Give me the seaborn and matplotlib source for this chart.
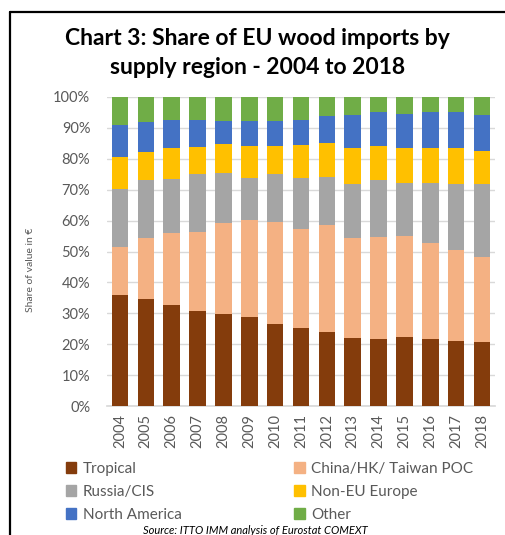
#! /usr/bin/env python3

import matplotlib
matplotlib.use('Agg')
import matplotlib.pyplot as plt
import matplotlib.patches as mpatches
import numpy as np
import pandas as pd
import seaborn as sns
from matplotlib.ticker import PercentFormatter

years = [str(y) for y in range(2004, 2019)]
regions = ['Tropical', 'China/HK/ Taiwan POC', 'Russia/CIS',
           'Non-EU Europe', 'North America', 'Other']

# share of value (%) per region
tropical = [35.8, 34.5, 32.8, 30.8, 29.9, 28.7, 26.5, 25.2, 24.1, 22.0, 21.6, 22.4, 21.6, 21.1, 20.7]
china = [15.7, 19.8, 23.2, 25.6, 29.4, 31.4, 33.2, 32.0, 34.4, 32.3, 33.1, 32.7, 31.1, 29.5, 27.4]
russia = [18.6, 18.7, 17.5, 18.7, 16.2, 13.8, 15.4, 16.6, 15.7, 17.5, 18.3, 17.1, 19.5, 21.1, 23.6]
non_eu = [10.4, 9.1, 9.9, 8.8, 9.2, 10.3, 9.1, 10.8, 10.8, 11.6, 11.2, 11.2, 11.2, 11.7, 10.9]
n_america = [10.3, 9.7, 9.1, 8.6, 7.4, 7.9, 7.9, 7.9, 8.7, 10.9, 10.8, 11.2, 11.6, 11.6, 11.5]
other = [9.2, 8.2, 7.5, 7.5, 7.9, 7.9, 7.9, 7.5, 6.3, 5.7, 5.0, 5.4, 5.0, 5.0, 5.9]

colors = ['#843C0C', '#F4B183', '#A5A5A5', '#FFC000', '#4472C4', '#70AD47']

data = pd.DataFrame({'Year': years, 'Tropical': tropical,
                     'China/HK/ Taiwan POC': china, 'Russia/CIS': russia,
                     'Non-EU Europe': non_eu, 'North America': n_america,
                     'Other': other})
shares = data[regions]
shares = shares.div(shares.sum(axis=1), axis=0) * 100
cum = shares.cumsum(axis=1)
cum['Year'] = data['Year']

sns.set_theme(style='white')
plt.rcParams['font.family'] = ['Lato', 'DejaVu Sans']

fig = plt.figure(figsize=(5.05, 5.35), dpi=100)
ax = fig.add_axes([107 / 505, 1 - 406 / 535, 388 / 505, 309 / 535])

# draw tallest cumulative first so lower segments sit on top
for region, color in reversed(list(zip(regions, colors))):
    sns.barplot(x='Year', y=region, data=cum, order=years, color=color,
                saturation=1, width=0.64, linewidth=0, ax=ax, zorder=3)

ax.set_ylim(0, 100)
ax.set_xlim(-0.5, len(years) - 0.5)
ax.set_yticks(np.arange(0, 101, 10))
ax.yaxis.set_major_formatter(PercentFormatter(decimals=0))
ax.yaxis.grid(True, color='#D9D9D9', linewidth=1, zorder=0)
ax.set_axisbelow(True)
for side in ['top', 'right', 'left']:
    ax.spines[side].set_visible(False)
ax.spines['bottom'].set_color('#D9D9D9')
ax.tick_params(axis='both', length=0, colors='#595959', labelsize=10.5)
ax.tick_params(axis='y', pad=12)
ax.tick_params(axis='x', pad=6)
plt.setp(ax.get_xticklabels(), rotation=90)
ax.set_xlabel('')
ax.set_ylabel('Share of value in €', fontsize=7.5, color='#595959')
ax.yaxis.set_label_coords(-0.185, 0.44)

fig.text(0.51, 1 - 53 / 535, 'Chart 3: Share of EU wood imports by\nsupply region - 2004 to 2018',
         ha='center', va='center', fontsize=16.5, fontweight='bold',
         color='#000000', linespacing=1.5)

handles = [mpatches.Patch(color=c, label=r) for r, c in zip(regions, colors)]
order = [0, 2, 4, 1, 3, 5]
fig.legend(handles=[handles[i] for i in order], ncol=2, frameon=False,
           loc='upper left', bbox_to_anchor=(52 / 505, 1 - 448 / 535),
           fontsize=11, handlelength=0.7, handleheight=0.7,
           handletextpad=0.4, columnspacing=7.4, labelspacing=0.6,
           labelcolor='#595959')

fig.text(0.505, 1 - 531 / 535, 'Source: ITTO IMM analysis of Eurostat COMEXT',
         ha='center', va='center', fontsize=8, fontstyle='italic', color='#000000')

# frame lines (top and left) as in the original cropped chart box
fig.add_artist(plt.Line2D([10 / 505, 1], [1 - 12 / 535, 1 - 12 / 535],
                          color='black', linewidth=1.6, transform=fig.transFigure))
fig.add_artist(plt.Line2D([10 / 505, 10 / 505], [0, 1 - 12 / 535],
                          color='black', linewidth=1.6, transform=fig.transFigure))

plt.savefig('out.png', dpi=100)
